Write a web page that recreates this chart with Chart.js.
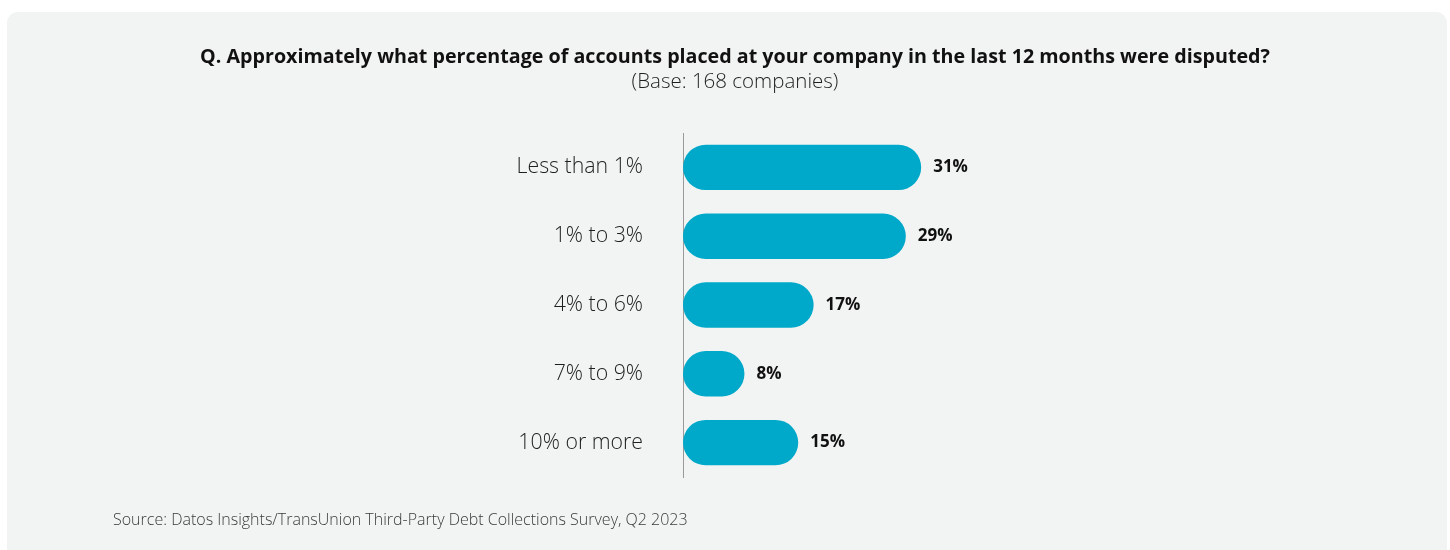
<!DOCTYPE html>
<html>
<head>
<meta charset="utf-8">
<script src="https://cdn.jsdelivr.net/npm/chart.js@4.4.1/dist/chart.umd.min.js"></script>
<style>
  html, body { margin: 0; padding: 0; background: #ffffff; }
  #panel {
    position: absolute; left: 7px; top: 12px; width: 1440px; height: 538px;
    background: #f2f4f4; border-radius: 11px 11px 0 0; overflow: hidden;
  }
  #panel canvas { display: block; }
</style>
</head>
<body>
<div id="panel"><canvas id="chart" width="1440" height="538"></canvas></div>
<script>
const categories = ['Less than 1%', '1% to 3%', '4% to 6%', '7% to 9%', '10% or more'];
const shares = [31, 29, 17, 8, 15];
const titleText = 'Q. Approximately what percentage of accounts placed at your company in the last 12 months were disputed?';
const subtitleText = '(Base: 168 companies)';
const sourceText = 'Source: Datos Insights/TransUnion Third-Party Debt Collections Survey, Q2 2023';

const FONT = '"Open Sans", Lato, sans-serif';

// Question, base note, source line and the value at the end of every bar
const annotations = {
  id: 'annotations',
  afterDatasetsDraw(chart) {
    const ctx = chart.ctx;
    const cx = 728;
    ctx.save();
    ctx.fillStyle = '#111111';
    ctx.textAlign = 'center';
    ctx.textBaseline = 'middle';
    ctx.font = '700 19.7px ' + FONT;
    ctx.fillText(titleText, cx, 45);
    ctx.font = '300 20.5px ' + FONT;
    ctx.fillStyle = '#1e1e1e';
    ctx.fillText(subtitleText, cx, 70);

    ctx.textAlign = 'left';
    ctx.font = '300 16px ' + FONT;
    ctx.fillStyle = '#3a3a3a';
    ctx.fillText(sourceText, 106, 508);

    const meta = chart.getDatasetMeta(0);
    ctx.font = '700 17px ' + FONT;
    ctx.fillStyle = '#111111';
    meta.data.forEach((bar, i) => {
      ctx.fillText(shares[i] + '%', bar.x + 12, bar.y);
    });
    ctx.restore();
  }
};

new Chart(document.getElementById('chart'), {
  type: 'bar',
  data: {
    labels: categories,
    datasets: [{
      data: shares,
      backgroundColor: '#00a9c9',
      borderRadius: 23,
      borderSkipped: false,
      barPercentage: 0.66,
      categoryPercentage: 1.0
    }]
  },
  options: {
    indexAxis: 'y',
    responsive: false,
    animation: false,
    layout: { padding: { left: 0, right: 303, top: 121, bottom: 73 } },
    plugins: {
      legend: { display: false },
      tooltip: { enabled: false }
    },
    scales: {
      x: {
        display: false,
        min: 0,
        max: 60
      },
      y: {
        afterFit(scale) { scale.width = 676; },
        grid: { display: false, drawTicks: false },
        border: { display: true, color: '#9a9a9a', width: 1 },
        ticks: {
          padding: 40,
          color: '#1e1e1e',
          font: { family: FONT, size: 21.3, weight: '300' }
        }
      }
    }
  },
  plugins: [annotations]
});
</script>
</body>
</html>
